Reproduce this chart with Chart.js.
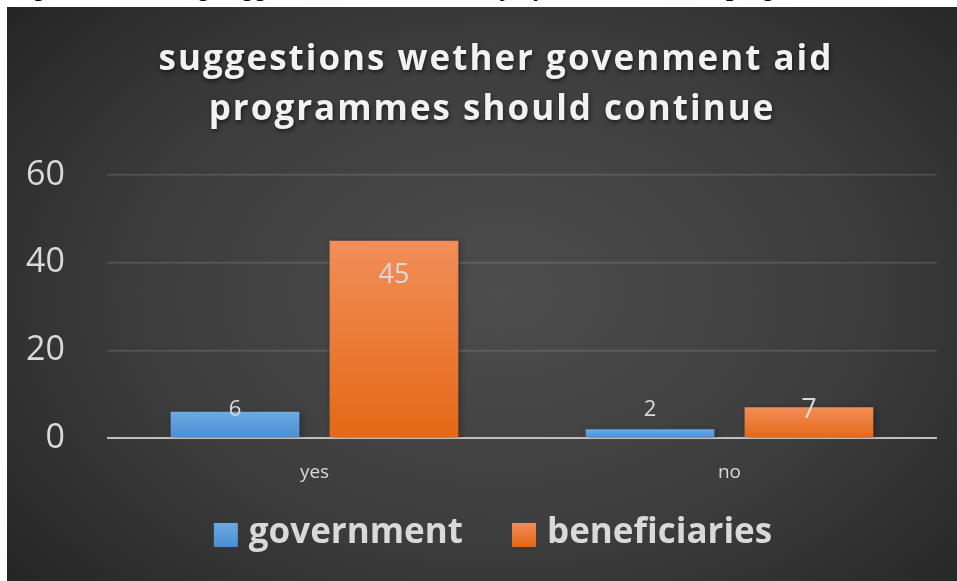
<!DOCTYPE html>
<html>
<head>
<meta charset="utf-8">
<script src="https://cdn.jsdelivr.net/npm/chart.js@4.4.1/dist/chart.umd.min.js"></script>
<style>
  html, body { margin: 0; padding: 0; background: #fff; width: 957px; height: 581px; overflow: hidden; }
  #caption { position: absolute; left: 10px; top: -25px; font: italic bold 26px "Liberation Serif"; line-height: 26px; white-space: nowrap; color: #000; }
  #panel { position: absolute; left: 7px; top: 7px; width: 950px; height: 574px;
    background: radial-gradient(ellipse 68% 78% at 52% 50%, #4d4d4d 0%, #3d3d3d 55%, #252525 100%); }
</style>
</head>
<body>
<div id="caption">Figure 6: Showing suggestion to the continuity of Government aid programmes</div>
<div id="panel"><canvas id="aidChart" width="950" height="574"></canvas></div>
<script>
// values
const categories = ["yes", "no"];
const governmentValues = [6, 2];
const beneficiaryValues = [45, 7];
const seriesNames = ["government", "beneficiaries"];
const titleLines = ["suggestions wether govenment aid", "programmes should continue"];

const BLUE = ["#6eaae2", "#4a8fd5"];
const ORANGE = ["#f28e59", "#e46816"];
const TEXT = "#d9d9d9";

// gradient per bar, lighter at the top of each bar
function barFill(colors) {
  return (ctx) => {
    const chart = ctx.chart;
    if (!chart.chartArea || ctx.type !== "data") return colors[1];
    const y = chart.scales.y;
    const g = chart.ctx.createLinearGradient(0, y.getPixelForValue(ctx.raw), 0, y.getPixelForValue(0));
    g.addColorStop(0, colors[0]);
    g.addColorStop(1, colors[1]);
    return g;
  };
}

const barShadow = {
  id: "barShadow",
  beforeDatasetsDraw(chart) {
    const c = chart.ctx;
    c.save();
    c.shadowColor = "rgba(0,0,0,0.4)";
    c.shadowBlur = 7;
    c.shadowOffsetX = 2;
    c.shadowOffsetY = 2;
  },
  afterDatasetsDraw(chart) {
    chart.ctx.restore();
  }
};

const valueLabels = {
  id: "valueLabels",
  afterDatasetsDraw(chart) {
    const c = chart.ctx;
    const sizes = [22, 27];
    c.save();
    c.fillStyle = TEXT;
    c.textAlign = "center";
    c.textBaseline = "middle";
    chart.data.datasets.forEach((ds, i) => {
      c.font = sizes[i] + "px 'Open Sans'";
      chart.getDatasetMeta(i).data.forEach((bar, j) => {
        const y = Math.min(bar.y + 35, bar.base - 27);
        c.fillText(ds.data[j], bar.x, y);
      });
    });
    c.restore();
  }
};

const titleAndLegend = {
  id: "titleAndLegend",
  afterDraw(chart) {
    const c = chart.ctx;
    const cx = chart.width / 2 + 14;
    c.save();
    // title
    c.font = "bold 35px 'Open Sans'";
    c.letterSpacing = "2px";
    c.textAlign = "center";
    c.textBaseline = "middle";
    c.shadowColor = "rgba(0,0,0,0.6)";
    c.shadowBlur = 4;
    c.shadowOffsetX = 1;
    c.shadowOffsetY = 2;
    c.fillStyle = "#f2f2f2";
    c.fillText(titleLines[0], cx, 53);
    c.fillText(titleLines[1], cx - 4, 103);
    c.restore();

    // legend
    c.save();
    c.font = "bold 35px 'Open Sans'";
    c.textBaseline = "middle";
    const box = 24, gap = 11, itemGap = 49, ly = 527;
    const widths = seriesNames.map((n) => c.measureText(n).width);
    const total = widths.reduce((a, w) => a + box + gap + w, 0) + itemGap;
    let x = chart.width / 2 + 11 - total / 2;
    chart.data.datasets.forEach((ds, i) => {
      const colors = i === 0 ? BLUE : ORANGE;
      const g = c.createLinearGradient(0, ly - 12, 0, ly + 12);
      g.addColorStop(0, colors[0]);
      g.addColorStop(1, colors[1]);
      c.fillStyle = g;
      c.fillRect(x, ly - 11, box, box);
      c.fillStyle = TEXT;
      c.fillText(ds.label, x + box + gap, ly - 1);
      x += box + gap + widths[i] + itemGap;
    });
    c.restore();
  }
};

new Chart(document.getElementById("aidChart"), {
  type: "bar",
  data: {
    labels: categories,
    datasets: [
      { label: seriesNames[0], data: governmentValues, backgroundColor: barFill(BLUE) },
      { label: seriesNames[1], data: beneficiaryValues, backgroundColor: barFill(ORANGE) }
    ]
  },
  options: {
    responsive: false,
    animation: false,
    categoryPercentage: 0.766,
    barPercentage: 0.81,
    layout: { padding: { top: 168, right: 20, bottom: 0, left: 0 } },
    plugins: {
      legend: { display: false },
      title: { display: false },
      tooltip: { enabled: false }
    },
    scales: {
      x: {
        grid: { display: false },
        border: { display: false },
        ticks: { color: TEXT, font: { family: "Open Sans", size: 19 }, padding: 15 },
        afterFit: (s) => { s.height = 143; }
      },
      y: {
        min: 0,
        max: 60,
        border: { display: false },
        grid: {
          drawTicks: false,
          lineWidth: (ctx) => (ctx.tick && ctx.tick.value === 0 ? 2 : 1.5),
          color: (ctx) => (ctx.tick && ctx.tick.value === 0 ? "#bfbfbf" : "rgba(255,255,255,0.14)")
        },
        ticks: { stepSize: 20, color: TEXT, font: { family: "Open Sans", size: 34 }, padding: 42 },
        afterFit: (s) => { s.width = 100; }
      }
    }
  },
  plugins: [barShadow, valueLabels, titleAndLegend]
});
</script>
</body>
</html>
